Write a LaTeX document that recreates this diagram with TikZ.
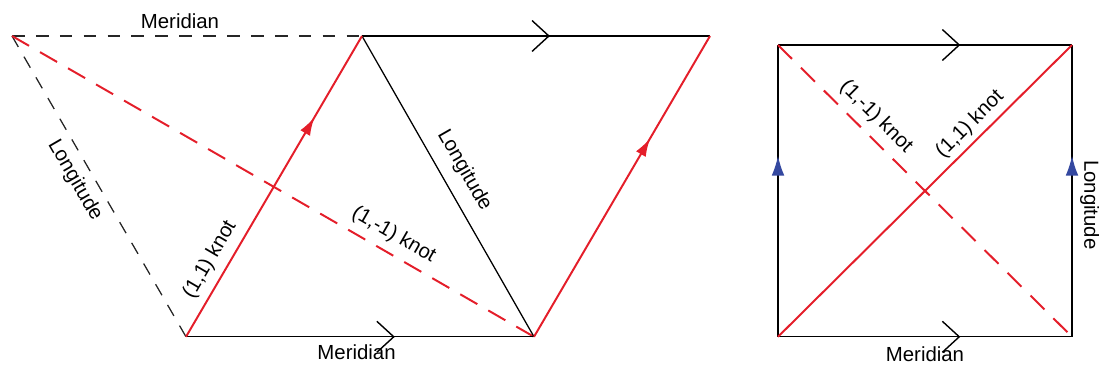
\documentclass[tikz,border=0pt]{standalone}
\usepackage{fontspec}
\setmainfont{Liberation Sans}
\usetikzlibrary{arrows.meta,decorations.markings}
\definecolor{knotred}{RGB}{228,30,42}
\definecolor{longblue}{RGB}{52,72,160}
\begin{document}
\begin{tikzpicture}[font=\fontsize{14.5}{17}\selectfont,
  edge/.style={black, line width=0.9pt},
  guide/.style={black!85, line width=0.9pt, dash pattern=on 9pt off 8pt},
  knot/.style={knotred, line width=1.4pt},
  knotdash/.style={knot, dash pattern=on 14pt off 9pt},
  barbat/.style={postaction={decorate, decoration={markings,
    mark=at position #1 with {\arrow{Straight Barb[length=12pt,width=22pt,line width=1pt]}}}}},
  redat/.style={postaction={decorate, decoration={markings,
    mark=at position #1 with {\arrow{Latex[length=13pt,width=8pt]}}}}},
  blueat/.style={postaction={decorate, decoration={markings,
    mark=at position #1 with {\arrow{Latex[length=14pt,width=9pt,color=longblue]}}}}},
  lbl/.style={text=black, inner sep=2.5pt}]
\useasboundingbox (0,0) rectangle (27.475,9.25);

% Left figure: corners
\coordinate (A) at (0.30, 8.35);
\coordinate (B) at (9.05, 8.35);
\coordinate (C) at (17.75, 8.35);
\coordinate (D) at (4.65, 0.83);
\coordinate (E) at (13.35, 0.83);

% Left figure: dashed lattice
\draw[guide] (A) -- node[lbl, pos=0.48, above=2pt] (merTop) {Meridian} (B);
\draw[guide] (A) -- node[lbl, pos=0.45, sloped, below=3pt] (lonLeft) {Longitude} (D);
\draw[knotdash] (A) -- node[lbl, pos=0.714, sloped, above=3pt] (knotMinus) {(1,-1) knot} (E);

% Left figure: parallelogram
\draw[edge, barbat=0.54] (B) -- (C);
\draw[edge, barbat=0.6] (D) -- node[lbl, pos=0.49, below=3pt] (merBot) {Meridian} (E);
\draw[edge] (B) -- node[lbl, pos=0.483, sloped, above=6pt] (lonMid) {Longitude} (E);
\draw[knot, redat=0.73] (D) -- node[lbl, pos=0.226, sloped, above=3pt] (knotPlus) {(1,1) knot} (B);
\draw[knot, redat=0.66] (E) -- (C);

% Right figure: corners
\coordinate (P1) at (19.45, 8.125);
\coordinate (P2) at (26.80, 8.125);
\coordinate (P3) at (19.45, 0.83);
\coordinate (P4) at (26.80, 0.83);

% Right figure: square
\draw[edge, barbat=0.62] (P1) -- (P2);
\draw[edge, barbat=0.62] (P3) -- node[lbl, pos=0.5, below=4pt] (merSq) {Meridian} (P4);
\draw[edge, blueat=0.62] (P3) -- (P1);
\draw[edge, blueat=0.62] (P4) -- (P2);
\path (P2) -- node[lbl, pos=0.548, sloped, above=3pt] (lonSq) {Longitude} (P4);
\draw[knot] (P3) -- node[lbl, pos=0.69, sloped, above=1pt] (knotPlusSq) {(1,1) knot} (P2);
\draw[knotdash] (P1) -- node[lbl, pos=0.29, sloped, above=3pt] (knotMinusSq) {(1,-1) knot} (P4);

\end{tikzpicture}
\end{document}
